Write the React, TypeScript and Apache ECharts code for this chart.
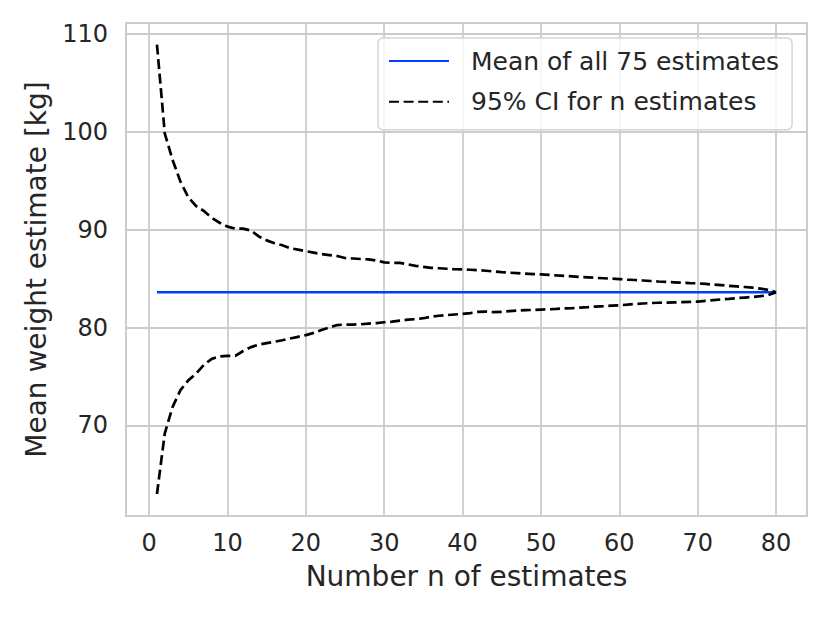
import React, { useEffect, useRef } from "react";
import * as echarts from "echarts";

const FONT = "DejaVu Sans";
const TEXT = "#262626";
const GRIDC = "#cccccc";

// n = 1..80 (number of estimates)
const nEstimates = Array.from({ length: 80 }, (_, i) => i + 1);

const meanValue = 83.6;

const upperCI = [
  108.9, 99.8, 97.1, 94.9, 93.3, 92.4, 91.9, 91.2, 90.7, 90.3,
  90.1, 90.1, 89.9, 89.3, 88.9, 88.6, 88.4, 88.1, 87.95, 87.8,
  87.65, 87.5, 87.4, 87.3, 87.1, 87.05, 87.0, 86.95, 86.85, 86.65,
  86.6, 86.6, 86.45, 86.3, 86.2, 86.1, 86.05, 86.0, 85.95, 85.93,
  85.9, 85.85, 85.8, 85.72, 85.65, 85.6, 85.55, 85.5, 85.45, 85.42,
  85.38, 85.32, 85.28, 85.22, 85.15, 85.12, 85.07, 85.03, 84.99, 84.95,
  84.9, 84.85, 84.8, 84.75, 84.7, 84.66, 84.62, 84.58, 84.54, 84.51,
  84.45, 84.38, 84.32, 84.26, 84.2, 84.14, 84.07, 83.97, 83.85, 83.6,
];

const lowerCI = [
  63.0, 69.2, 71.9, 73.6, 74.6, 75.3, 76.2, 76.8, 77.05, 77.1,
  77.1, 77.6, 78.0, 78.25, 78.4, 78.55, 78.7, 78.88, 79.05, 79.22,
  79.45, 79.75, 80.0, 80.25, 80.3, 80.3, 80.33, 80.4, 80.45, 80.54,
  80.6, 80.7, 80.8, 80.85, 80.95, 81.1, 81.2, 81.27, 81.33, 81.39,
  81.47, 81.6, 81.62, 81.57, 81.6, 81.68, 81.73, 81.77, 81.8, 81.83,
  81.86, 81.9, 81.95, 81.98, 82.03, 82.08, 82.14, 82.18, 82.23, 82.27,
  82.33, 82.4, 82.45, 82.5, 82.53, 82.55, 82.57, 82.59, 82.62, 82.64,
  82.72, 82.8, 82.87, 82.93, 83.0, 83.06, 83.12, 83.2, 83.3, 83.6,
];

const xTicks = [0, 10, 20, 30, 40, 50, 60, 70, 80];
const yTicks = [70, 80, 90, 100, 110];

const MEAN_NAME = "Mean of all 75 estimates";
const CI_NAME = "95% CI for n estimates";

const DASH = [10, 4.6];

export default function App() {
  const ref = useRef<HTMLDivElement>(null);

  useEffect(() => {
    if (!ref.current) return;
    const chart = echarts.init(ref.current, null, { renderer: "svg" });
    const firstN = nEstimates[0];
    const lastN = nEstimates[nEstimates.length - 1];
    const option = {
      animation: false,
      backgroundColor: "#ffffff",
      grid: {
        left: 126,
        top: 23,
        width: 681,
        height: 493,
        show: true,
        borderColor: GRIDC,
        borderWidth: 2,
        backgroundColor: "transparent",
      },
      legend: {
        orient: "vertical",
        left: 378,
        top: 38,
        padding: [8, 13, 13, 10],
        itemWidth: 60,
        itemHeight: 14,
        itemGap: 10.7,
        backgroundColor: "rgba(255,255,255,0.8)",
        borderColor: "#d6d6d6",
        borderWidth: 1.5,
        borderRadius: 5,
        itemStyle: { opacity: 0 },
        textStyle: {
          fontFamily: FONT,
          fontSize: 25,
          color: TEXT,
          lineHeight: 30,
          padding: [0, 0, 0, 17],
        },
        data: [
          { name: MEAN_NAME, itemStyle: { opacity: 0 } },
          { name: CI_NAME, itemStyle: { opacity: 0 } },
        ],
      },
      xAxis: {
        type: "value",
        min: -2.95,
        max: 83.95,
        minInterval: 10,
        maxInterval: 10,
        name: "Number n of estimates",
        nameLocation: "middle",
        nameGap: 46,
        nameTextStyle: { fontFamily: FONT, fontSize: 28, color: TEXT },
        axisLine: { show: false },
        axisTick: { show: false },
        axisLabel: {
          fontFamily: FONT,
          fontSize: 24,
          color: TEXT,
          margin: 15,
          showMinLabel: false,
          showMaxLabel: false,
          formatter: (v: number) => (xTicks.includes(v) ? String(v) : ""),
        },
        splitLine: { show: true, lineStyle: { color: GRIDC, width: 1.8 } },
      },
      yAxis: {
        type: "value",
        min: 60.75,
        max: 111.1,
        minInterval: 10,
        maxInterval: 10,
        name: "Mean weight estimate [kg]",
        nameLocation: "middle",
        nameGap: 76,
        nameTextStyle: { fontFamily: FONT, fontSize: 28, color: TEXT },
        axisLine: { show: false },
        axisTick: { show: false },
        axisLabel: {
          fontFamily: FONT,
          fontSize: 24,
          color: TEXT,
          margin: 18,
          showMinLabel: false,
          showMaxLabel: false,
          formatter: (v: number) => (yTicks.includes(v) ? String(v) : ""),
        },
        splitLine: { show: true, lineStyle: { color: GRIDC, width: 1.8 } },
      },
      series: [
        {
          name: MEAN_NAME,
          type: "line",
          symbol: "none",
          showSymbol: false,
          data: [
            [firstN, meanValue],
            [lastN, meanValue],
          ],
          lineStyle: { color: "#023eff", width: 2.3 },
          itemStyle: { color: "#023eff" },
          z: 3,
        },
        {
          name: CI_NAME,
          type: "line",
          symbol: "none",
          showSymbol: false,
          data: nEstimates.map((n, i) => [n, upperCI[i]]),
          lineStyle: { color: "#000000", width: 2.7, type: DASH },
          itemStyle: { color: "#000000" },
          z: 4,
        },
        {
          name: CI_NAME,
          type: "line",
          symbol: "none",
          showSymbol: false,
          data: nEstimates.map((n, i) => [n, lowerCI[i]]),
          lineStyle: { color: "#000000", width: 2.7, type: DASH },
          itemStyle: { color: "#000000" },
          z: 4,
        },
      ],
    };
    chart.setOption(option as any);
    return () => chart.dispose();
  }, []);

  return (
    <div
      ref={ref}
      style={{ position: "fixed", left: 0, top: 0, width: 830, height: 623 }}
    />
  );
}
